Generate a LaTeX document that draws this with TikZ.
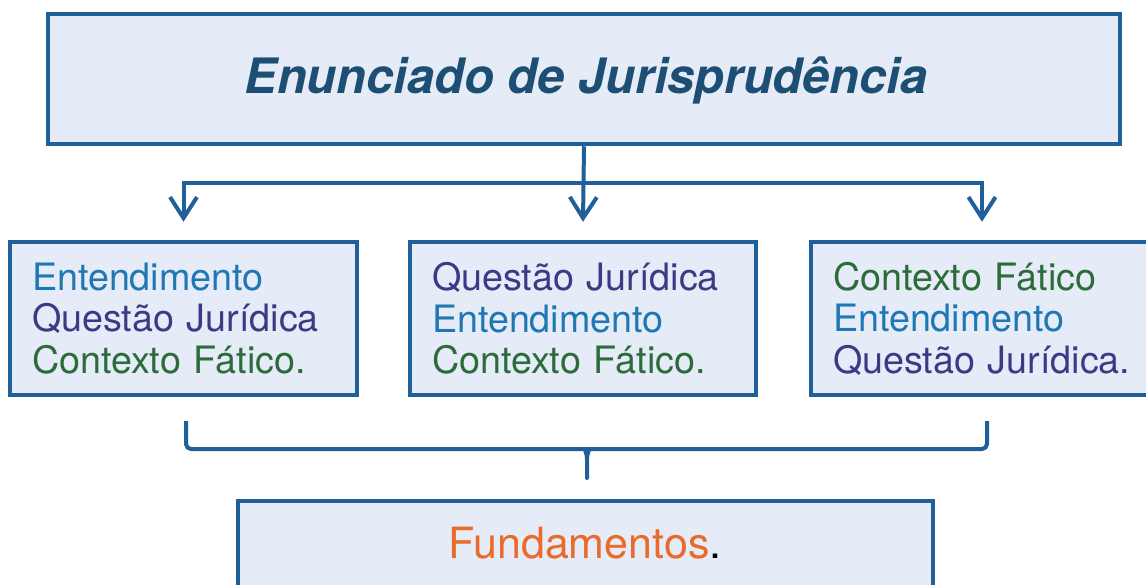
\documentclass[tikz,border=0pt]{standalone}
\usepackage{fontspec}
\setmainfont{TeX Gyre Heros}
\usetikzlibrary{arrows.meta}
\definecolor{boxblue}{HTML}{1F5F9A}
\definecolor{boxfill}{HTML}{E5EBF7}
\definecolor{titleblue}{HTML}{1C4F73}
\definecolor{entblue}{HTML}{1F78B4}
\definecolor{qjpurple}{HTML}{3B3B85}
\definecolor{cfgreen}{HTML}{2C6B3A}
\definecolor{fundorange}{HTML}{EA6A2A}
\begin{document}
\begin{tikzpicture}[x=1pt,y=-1pt,
  frame/.style={draw=boxblue, line width=4.5pt, fill=boxfill, inner sep=0pt},
  listbox/.style={frame, minimum height=153pt, inner xsep=22pt, align=left,
    font=\fontsize{37.7}{41.5}\selectfont},
  conn/.style={draw=boxblue, line width=4pt, line join=miter},
  arr/.style={conn, -{Straight Barb[length=21pt,width=27pt,line width=4pt]}}]
\clip (0,0) rectangle (1146,584);
\fill[white] (0,0) rectangle (1146,584);
% boxes
\node[frame, minimum width=1072pt, minimum height=130pt] (T) at (584,79) {};
\node[text=titleblue, font=\fontsize{48.8}{52}\selectfont\bfseries\itshape] (TT) at (586,80) {Enunciado de Jurisprudência};
\node[listbox, minimum width=347pt, text width=303pt] (L) at (183.5,318.5)
  {\color{entblue}Entendimento\\\color{qjpurple}Questão Jurídica\\\color{cfgreen}Contexto Fático.};
\node[listbox, minimum width=346pt, text width=302pt] (M) at (583,318.5)
  {\color{qjpurple}Questão Jurídica\\\color{entblue}Entendimento\\\color{cfgreen}Contexto Fático.};
\node[listbox, minimum width=342pt, text width=298pt] (R) at (982,318.5)
  {\color{cfgreen}Contexto Fático\\\color{entblue}Entendimento\\\color{qjpurple}Questão Jurídica.};
\node[frame, minimum width=695pt, minimum height=119pt] (F) at (585.5,560.5) {};
\node[anchor=base, font=\fontsize{43}{46}\selectfont, inner sep=0pt] (FT) at (585,558)
  {\color{fundorange}Fundamentos\color{black}.};
% connectors
\coordinate (bus) at (0,183);
\draw[arr] (T.south) -- ([yshift=18pt]M.north);
\draw[arr] (T.south |- bus) -- (L.north |- bus) -- ([yshift=18pt]L.north);
\draw[arr] (T.south |- bus) -- (R.north |- bus) -- ([yshift=18pt]R.north);
% brace
\coordinate (bl) at (186,421);
\coordinate (br) at (987,421);
\coordinate (bm) at (587,478);
\draw[conn, rounded corners=5pt] (bl) -- (186,449) -- (987,449) -- (br);
\fill[boxblue] (578,447.5) to[out=0,in=90] (585,460) -- (585,478) -- (589,478) -- (589,460) to[out=90,in=180] (596,447.5) -- cycle;
\draw[conn, line cap=round] (587,460) -- (bm);
\end{tikzpicture}
\end{document}
